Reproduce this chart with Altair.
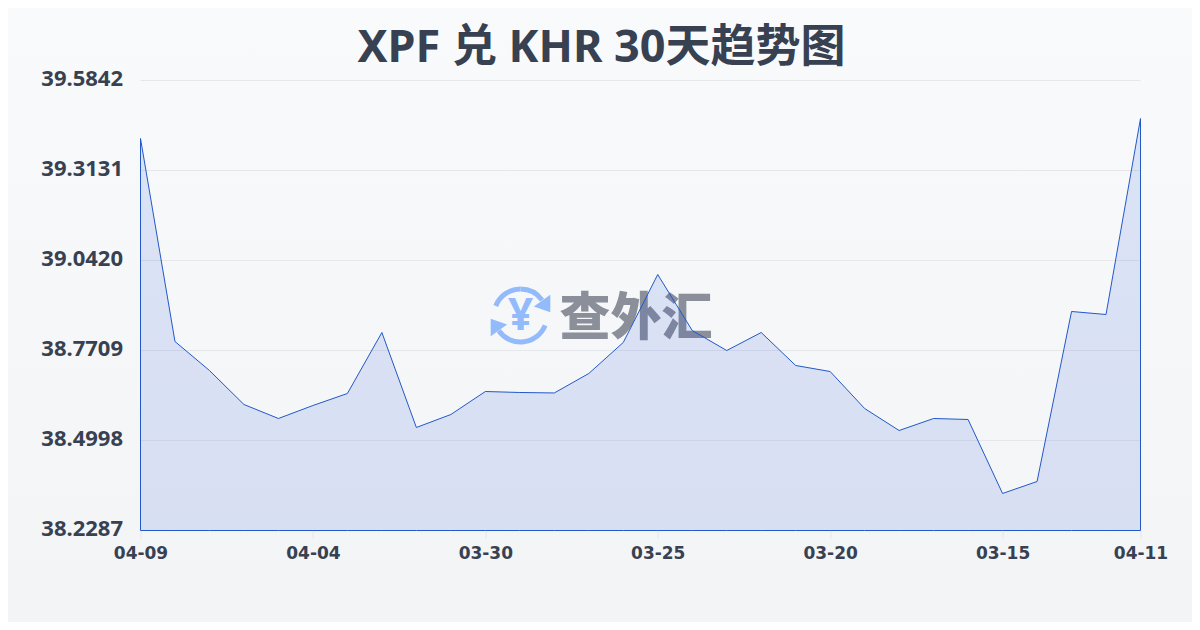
import altair as alt
import pandas as pd
import json

dates = ["04-09","04-08","04-07","04-06","04-05","04-04","04-03","04-02","04-01","03-31",
         "03-30","03-29","03-28","03-27","03-26","03-25","03-24","03-23","03-22","03-21",
         "03-20","03-19","03-18","03-17","03-16","03-15","03-14","03-13","03-12","04-11"]
rates = [39.4095,38.7980,38.7107,38.6082,38.5661,38.6052,38.6414,38.8251,38.5390,38.5781,
         38.6474,38.6444,38.6430,38.7016,38.7950,38.9998,38.8311,38.7709,38.8251,38.7257,
         38.7076,38.5962,38.5299,38.5661,38.5631,38.3402,38.3763,38.8884,38.8793,39.4697]
y_ticks = [38.2287,38.4998,38.7709,39.0420,39.3131,39.5842]
x_tick_index = [0, 5, 10, 15, 20, 25, 29]
title_text = "XPF 兑 KHR 30天趋势图"
wm_text = "查外汇"

df = pd.DataFrame({"idx": list(range(len(dates))), "date": dates, "rate": rates,
                   "base": [y_ticks[0]] * len(dates)})
grid_df = pd.DataFrame({"v": y_ticks})

W, H = 1000, 450
L, T = 132.5, 72.5
R, B = 51.5, 91.5
ICON = "#93bbfb"
LINE = "#2258c8"
FILL = "#1d4ed8"

x = alt.X("idx:Q", scale=alt.Scale(domain=[0, len(dates) - 1], nice=False, zero=False),
          axis=alt.Axis(values=x_tick_index, labelExpr=json.dumps(dates) + "[datum.value]",
                        title=None, labelAngle=0, domain=False, grid=False,
                        tickColor="#e5e7eb", tickSize=8, tickWidth=1, labelPadding=7,
                        labelFont="DejaVu Sans", labelFontWeight="bold", labelFontSize=17,
                        labelColor="#374151", labelOverlap=False, labelFlush=False, zindex=1))
y_scale = alt.Scale(domain=[y_ticks[0], y_ticks[-1]], zero=False, nice=False)
y_axis = alt.Axis(values=y_ticks, format=".4f", title=None, domain=False, ticks=False, grid=False,
                  labelPadding=18, labelFont="Noto Sans", labelFontWeight="bold", labelFontSize=22,
                  labelColor="#374151", labelBaseline="middle", labelOffset=-2, zindex=1)
y = alt.Y("rate:Q", scale=y_scale, axis=y_axis, stack=None)

bg = alt.Chart(pd.DataFrame({"a": [0]})).mark_rect(
    color=alt.Gradient(gradient="linear", x1=0, y1=0, x2=0, y2=1,
                       stops=[alt.GradientStop(color="#f8fafc", offset=0),
                              alt.GradientStop(color="#f3f4f6", offset=1)]),
    clip=False
).encode(x=alt.value(-L), x2=alt.value(W + R), y=alt.value(-T), y2=alt.value(H + B))

grid = alt.Chart(grid_df).mark_rule(color="#e5e7eb", strokeWidth=1).encode(
    y=alt.Y("v:Q", scale=y_scale, axis=y_axis))

one = pd.DataFrame({"a": [0]})
cx, cy = 520 - 140, 315 - 80
def arc(t1, t2):
    return alt.Chart(one).mark_arc(color=ICON, innerRadius=24, outerRadius=29, theta=t1, theta2=t2).encode(
        x=alt.value(cx), y=alt.value(cy))
arcs = [arc(5.08, 6.2832), arc(0, 0.95), arc(1.95, 4.1)]
head1 = alt.Chart(one).mark_point(shape="M0.9,-1 L0.9,1 L-1,0.35 Z", filled=True, color=ICON, opacity=1, size=300).encode(
    x=alt.value(cx + 22), y=alt.value(cy - 12))
head2 = alt.Chart(one).mark_point(shape="M-0.9,1 L-0.9,-1 L1,-0.35 Z", filled=True, color=ICON, opacity=1, size=300).encode(
    x=alt.value(cx - 22), y=alt.value(cy + 12))
yen = alt.Chart(one).mark_text(text="¥", font="Noto Sans", fontWeight="bold", fontSize=44, color=ICON,
                               align="center", baseline="middle").encode(x=alt.value(cx), y=alt.value(cy + 1))
wm = alt.Chart(one).mark_text(text=wm_text, font="Noto Sans CJK SC", fontWeight=900, fontSize=51, color="#8a8f99",
                              align="left", baseline="middle").encode(x=alt.value(559 - 140), y=alt.value(319 - 80))

area = alt.Chart(df).mark_area(color=LINE, fill=FILL, fillOpacity=0.13, stroke=LINE,
                               strokeWidth=1, interpolate="linear", opacity=1).encode(x=x, y=y, y2=alt.Y2("base:Q"))

chart = alt.layer(bg, grid, *arcs, head1, head2, yen, wm, area).properties(
    width=W, height=H,
    padding={"left": L, "top": T, "right": R, "bottom": B},
    autosize=alt.AutoSizeParams(type="none"),
    title=alt.TitleParams(title_text, font="Noto Sans, Noto Sans CJK SC", fontWeight="bold", fontSize=45, color="#374151",
                          anchor="middle", frame="group", dx=-39, offset=0, dy=63, zindex=1),
).configure_view(stroke=None)

chart.save("out.html", embed_options={"renderer": "svg", "actions": False})
